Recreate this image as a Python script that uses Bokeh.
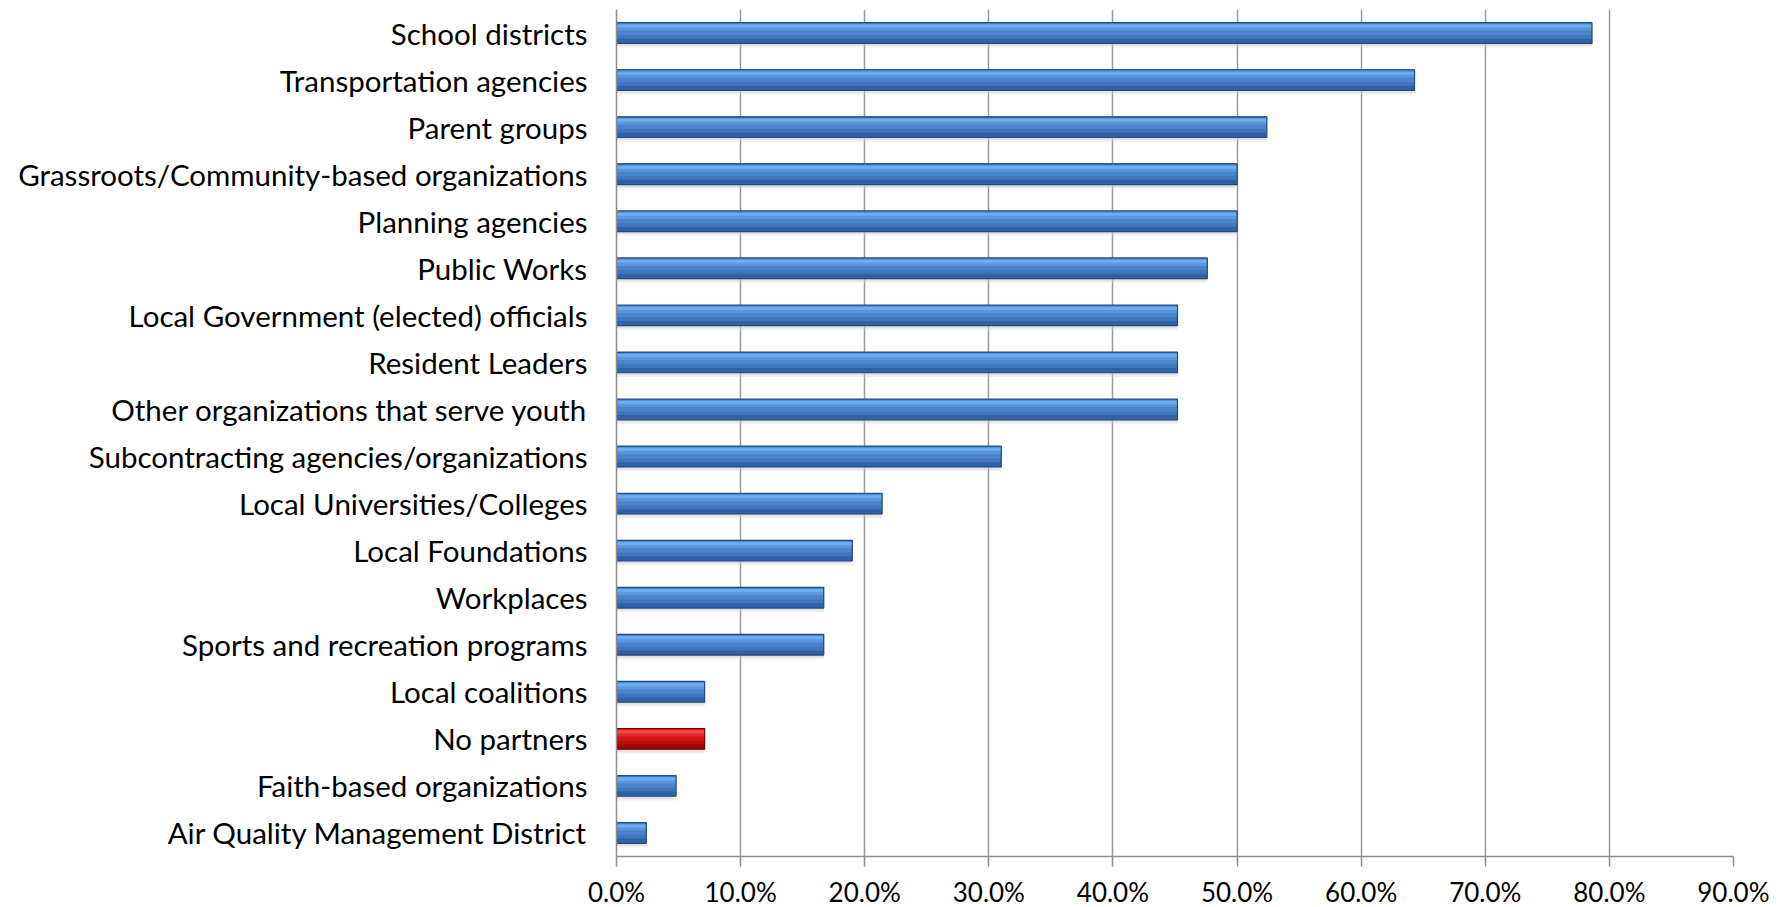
from bokeh.plotting import figure
from bokeh.models import ColumnDataSource, FactorRange, Range1d, FixedTicker
from bokeh.transform import dodge
from bokeh.embed import file_html
from bokeh.resources import INLINE

categories = [
    "School districts",
    "Transportation agencies",
    "Parent groups",
    "Grassroots/Community-based organizations",
    "Planning agencies",
    "Public Works",
    "Local Government (elected) officials",
    "Resident Leaders",
    "Other organizations that serve youth",
    "Subcontracting agencies/organizations",
    "Local Universities/Colleges",
    "Local Foundations",
    "Workplaces",
    "Sports and recreation programs",
    "Local coalitions",
    "No partners",
    "Faith-based organizations",
    "Air Quality Management District",
]
values = [78.6, 64.3, 52.4, 50.0, 50.0, 47.6, 45.2, 45.2, 45.2, 31.0,
          21.4, 19.0, 16.7, 16.7, 7.1, 7.1, 4.8, 2.4]
highlight = "No partners"

tick_values = [0, 10, 20, 30, 40, 50, 60, 70, 80, 90]
tick_labels = ["0.0%", "10.0%", "20.0%", "30.0%", "40.0%", "50.0%",
               "60.0%", "70.0%", "80.0%", "90.0%"]

FONT = "Lato"

H = 0.44
TOP = H / 2
# overlapping layers, each running from the bar top down to a given level
levels = [-TOP, -0.12, -0.04, 0.05, 0.115, 0.185]
blue = ["#3262A5", "#3F76BD", "#4A84CD", "#5A96DD", "#6DABEE", "#4B86D3"]
red = ["#A00707", "#BC0D0D", "#D01515", "#E22626", "#F24A4A", "#D21818"]

is_red = [c == highlight for c in categories]
data = dict(cat=categories, val=values,
            edge=["#6E0505" if r else "#24497E" for r in is_red])
for i in range(len(levels)):
    data["c%d" % i] = [red[i] if r else blue[i] for r in is_red]
src = ColumnDataSource(data)

p = figure(
    y_range=FactorRange(factors=list(reversed(categories))),
    x_range=Range1d(0, 90),
    frame_width=1117, frame_height=847,
    min_border_left=616, min_border_top=9, min_border_right=36, min_border_bottom=10,
    output_backend="svg", toolbar_location=None,
)
p.outline_line_color = None
p.background_fill_color = "white"

# soft shadow
p.hbar(y=dodge("cat", -0.09, range=p.y_range), right="val", left=0, height=H,
       source=src, fill_color="#d4d4d4", fill_alpha=0.35, line_color=None)
p.hbar(y=dodge("cat", -0.05, range=p.y_range), right="val", left=0, height=H,
       source=src, fill_color="#c4c4c4", fill_alpha=0.35, line_color=None)
# gradient body
for i, b in enumerate(levels):
    p.hbar(y=dodge("cat", (TOP + b) / 2, range=p.y_range), right="val", left=0,
           height=TOP - b, source=src, fill_color="c%d" % i, line_color=None)
# outline
p.hbar(y="cat", right="val", left=0, height=H, source=src,
       fill_color=None, line_color="edge", line_width=1.2)

# x axis
xa = p.xaxis[0]
xa.ticker = FixedTicker(ticks=tick_values)
xa.major_label_overrides = {v: l for v, l in zip(tick_values, tick_labels)}
xa.axis_line_color = "#8c8c8c"
xa.axis_line_width = 1.5
xa.major_tick_line_color = "#8c8c8c"
xa.major_tick_line_width = 1.5
xa.major_tick_out = 10
xa.major_tick_in = 0
xa.minor_tick_line_color = None
xa.major_label_text_font = FONT
xa.major_label_text_font_size = "26px"
xa.major_label_text_color = "black"
xa.major_label_standoff = 9

# y axis
ya = p.yaxis[0]
ya.axis_line_color = "#8c8c8c"
ya.axis_line_width = 1.5
ya.major_tick_line_color = None
ya.minor_tick_line_color = None
ya.major_label_text_font = FONT
ya.major_label_text_font_size = "29.5px"
ya.major_label_text_color = "black"
ya.major_label_standoff = 23

p.xgrid.ticker = FixedTicker(ticks=tick_values)
p.xgrid.grid_line_color = "#9a9a9a"
p.xgrid.grid_line_width = 1.5
p.ygrid.grid_line_color = None

open("out.html", "w").write(file_html(p, INLINE))
